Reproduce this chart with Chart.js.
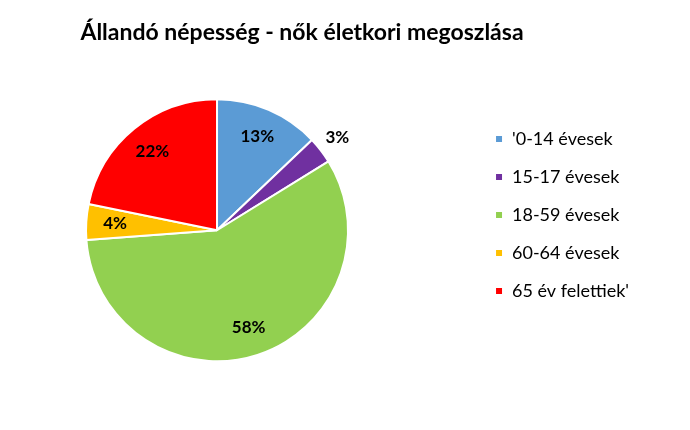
<!DOCTYPE html>
<html>
<head>
<meta charset="utf-8">
<script src="https://cdn.jsdelivr.net/npm/chart.js@4"></script>
<style>
  html, body { margin: 0; padding: 0; background: #fff; }
  #wrap { width: 690px; height: 430px; }
</style>
</head>
<body>
<div id="wrap"><canvas id="chart"></canvas></div>
<script>
const title = 'Állandó népesség - nők életkori megoszlása'
const categories = ["'0-14 évesek", '15-17 évesek', '18-59 évesek', '60-64 évesek', "65 év felettiek'"]
const shares = [12.9, 3.3, 57.6, 4.4, 21.8]
const colors = ['#5B9BD5', '#7030A0', '#92D050', '#FFC000', '#FF0000']

const FONT = 'Lato, "Open Sans", sans-serif'

// percentage labels: inside the slice, small slices just outside
const pctLabels = {
  id: 'pctLabels',
  afterDatasetsDraw(chart) {
    const ctx = chart.ctx
    const meta = chart.getDatasetMeta(0)
    const total = shares.reduce((a, b) => a + b, 0)
    ctx.save()
    ctx.font = 'bold 17px ' + FONT
    ctx.fillStyle = '#000'
    ctx.textAlign = 'center'
    ctx.textBaseline = 'middle'
    meta.data.forEach((arc, i) => {
      const p = shares[i] / total * 100
      const mid = (arc.startAngle + arc.endAngle) / 2
      const r = arc.outerRadius * (p < 3.5 ? 1.16 : 0.78)
      ctx.fillText(Math.round(p) + '%', arc.x + Math.cos(mid) * r, arc.y + Math.sin(mid) * r)
    })
    ctx.restore()
  }
}

// empty box between the pie and the legend
const legendGap = {
  id: 'legendGap',
  beforeInit(chart) {
    Chart.layouts.addBox(chart, {
      position: 'right',
      weight: 500,
      fullSize: false,
      options: {},
      update(maxWidth, maxHeight) {
        this.width = 41
        this.height = maxHeight
      },
      isHorizontal() { return false },
      draw() {}
    })
  }
}

new Chart(document.getElementById('chart'), {
  type: 'pie',
  data: {
    labels: categories,
    datasets: [{
      data: shares,
      backgroundColor: colors,
      borderColor: '#fff',
      borderWidth: 2,
      radius: 131
    }]
  },
  options: {
    responsive: true,
    maintainAspectRatio: false,
    animation: false,
    // negative left only shifts the full-width title; the pie area stays at 0
    layout: { padding: { left: -35, right: 51, top: 15, bottom: 15 } },
    plugins: {
      title: {
        display: true,
        text: title,
        color: '#000',
        font: { family: FONT, size: 23, weight: 'bold', lineHeight: 0.5 },
        padding: { top: 12, bottom: 7 }
      },
      legend: {
        position: 'right',
        labels: {
          color: '#000',
          font: { family: FONT, size: 18 },
          boxWidth: 8,
          boxHeight: 8,
          padding: 20
        }
      },
      tooltip: { enabled: false }
    }
  },
  plugins: [pctLabels, legendGap]
})
</script>
</body>
</html>
